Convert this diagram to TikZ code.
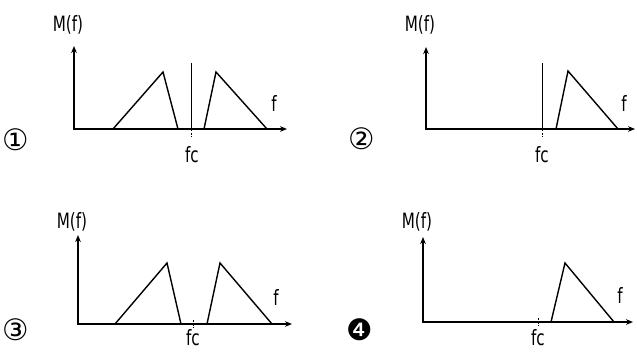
\documentclass[tikz,border=0pt]{standalone}
\usepackage{fontspec}
\usepackage{tikz}
\usetikzlibrary{arrows.meta}
\newfontfamily\lblfont[FakeStretch=0.8]{DejaVu Sans Condensed}
\newfontfamily\numfont{DejaVu Sans}

\tikzset{
  axisline/.style={line width=1pt, {Stealth[length=5pt,width=4pt]}-{Stealth[length=5pt,width=4pt]}},
  spec/.style={line width=1pt, line join=miter},
  fcmark/.style={line width=0.6pt, dash pattern=on 1.5pt off 1pt},
  lbl/.style={font=\lblfont\fontsize{15}{15}\selectfont, inner sep=0pt},
  numlbl/.style={font=\numfont\fontsize{21}{21}\selectfont, inner sep=0pt}
}

\begin{document}
\begin{tikzpicture}[x=0.025cm, y=-0.025cm]
        \useasboundingbox (0,0) rectangle (637,355);
        % panel 1
        \draw[axisline] (74,46) -- (74,129) -- (287,129);
        \draw[spec] (113,129) -- (163,72) -- (178,129);
        \draw[spec] (204,129) -- (216,72) -- (267,129);
        \draw[line width=0.7pt] (191,63) -- (191,129);
        \draw[fcmark] (191,129) -- (191,137);
        \node[lbl] (mf1) at (68,25) {M(f)};
        \node[lbl] (f1) at (274,103) {f};
        \node[lbl] (fc1) at (192,155) {fc};
        \node[numlbl] (n1) at (16,140) {①};
        % panel 2
        \draw[axisline] (426,47) -- (426,129) -- (635,129);
        \draw[spec] (556,129) -- (568,71) -- (618,129);
        \draw[line width=0.7pt] (542,63) -- (542,129);
        \draw[fcmark] (542,129) -- (542,137);
        \node[lbl] (mf2) at (420,25) {M(f)};
        \node[lbl] (f2) at (624,103) {f};
        \node[lbl] (fc2) at (542,155) {fc};
        \node[numlbl] (n2) at (362,139) {②};
        % panel 3
        \draw[axisline] (78,235) -- (78,324) -- (292,324);
        \draw[spec] (115,324) -- (167,263) -- (181,324);
        \draw[spec] (207,324) -- (220,263) -- (272,324);
        \draw[fcmark] (193,320) -- (193,328);
        \node[lbl] (mf3) at (72,222) {M(f)};
        \node[lbl] (f3) at (276,297) {f};
        \node[lbl] (fc3) at (193,338) {fc};
        \node[numlbl] (n3) at (16,330) {③};
        % panel 4
        \draw[axisline] (423,237) -- (423,322) -- (633,322);
        \draw[spec] (551,322) -- (565,263) -- (614,322);
        \draw[fcmark] (538,318) -- (538,326);
        \node[lbl] (mf4) at (417,222) {M(f)};
        \node[lbl] (f4) at (620,295) {f};
        \node[lbl] (fc4) at (538,338) {fc};
        \node[numlbl] (n4) at (360,330) {❹};
\end{tikzpicture}
\end{document}
